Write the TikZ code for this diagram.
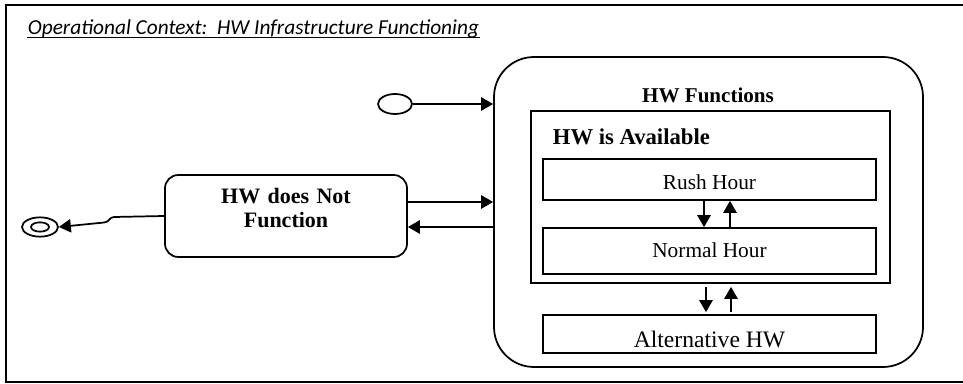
\documentclass[tikz,border=0pt]{standalone}
\usepackage{fontspec}
\setmainfont{Liberation Serif}
\newfontfamily\titlefont{Carlito}
\usetikzlibrary{arrows.meta,fit,shapes.geometric,calc}
\begin{document}
\begin{tikzpicture}[x=0.75pt,y=-0.75pt,
  line width=1.3pt,
  arr/.style={-{Triangle[length=9pt,width=10pt]}},
  box/.style={draw, inner sep=0pt},
  txt/.style={inner sep=0pt, font=\fontsize{16pt}{19pt}\selectfont},
]
\useasboundingbox (0,0) rectangle (963,384);
% frame (open on the right)
\draw[line width=1.6pt] (975,5) -- (6,5) -- (6,382) -- (975,382);
% title
\node[anchor=base west, inner sep=0pt, font=\titlefont\itshape\fontsize{16pt}{18pt}\selectfont] (title) at (27,35) {Operational Context:\ \ HW Infrastructure Functioning};
\draw[line width=1.2pt] ($(title.base west)+(0,2.5)$) -- ($(title.base east)+(0,2.5)$);

% composite state
\node[box, rounded corners=30pt, fit={(494,57)(923,367)}] (func) {};
\node[inner sep=0pt, anchor=base, font=\bfseries\fontsize{15.8pt}{18pt}\selectfont] (funcT) at (708,103) {HW Functions};

\node[box, fit={(531,111)(890,283)}] (avail) {};
\node[inner sep=0pt, anchor=base west, font=\bfseries\fontsize{17pt}{20pt}\selectfont] (availT) at (552,145) {HW is Available};

\node[box, fit={(543,159)(876,200)}] (rush) {};
\node[txt, anchor=base] (rushT) at (709.5,190) {Rush Hour};
\node[box, fit={(543,228)(876,274)}] (normal) {};
\node[txt, anchor=base] (normalT) at (709.5,258) {Normal Hour};
\node[box, fit={(543,315)(876,353)}] (alt) {};
\node[txt, anchor=base, font=\fontsize{17.7pt}{20pt}\selectfont] (altT) at (709.5,348) {Alternative HW};

\draw[arr] ($(rush.south)+(-5.5,0)$) -- ($(normal.north)+(-5.5,0)$);
\draw[arr] ($(normal.north)+(20.5,0)$) -- ($(rush.south)+(20.5,0)$);
\draw[arr] ($(avail.south)+(-4.5,3)$) -- ($(alt.north)+(-3.5,-2)$);
\draw[arr] ($(alt.north)+(21.5,-2)$) -- ($(avail.south)+(20.5,3)$);

% initial state
\node[draw, ellipse, inner sep=0pt, minimum width=25.5pt, minimum height=15pt] (init) at (395,104) {};
\draw[arr] (init.east) -- (init.east -| func.west);

% HW does not function
\node[box, rounded corners=10pt, fit={(165,175)(407,257)}, align=center,
      font=\bfseries\fontsize{16.5pt}{18pt}\selectfont] (notf) {HW does Not\\Function};
\coordinate (a1) at ($(notf.east)+(0,-14)$);
\coordinate (a2) at ($(notf.east)+(0,11)$);
\draw[arr] (a1) -- (a1 -| func.west);
\draw[arr] (a2 -| func.west) -- (a2);

% final state
\node[draw, ellipse, inner sep=0pt, minimum width=27pt, minimum height=14.5pt] (final) at (40,227) {};
\node[draw, ellipse, inner sep=0pt, minimum width=13.5pt, minimum height=7pt] (finalIn) at (40,227) {};
\draw[arr] (notf.west) -- ++(-50,1) .. controls +(-5,0) and +(5,0) .. ++(-10,5.5) -- (final.east);
\end{tikzpicture}
\end{document}
